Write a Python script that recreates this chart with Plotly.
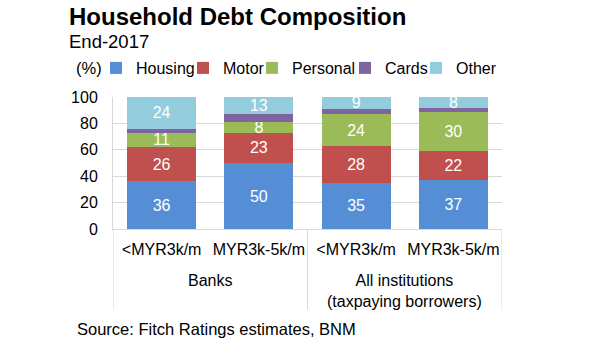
import plotly.graph_objects as go

groups = ["Banks", "All institutions<br>(taxpaying borrowers)"]
group_members = [[0, 1], [2, 3]]
bands = ["<MYR3k/m", "MYR3k-5k/m", "<MYR3k/m", "MYR3k-5k/m"]
xpos = list(range(len(bands)))

series = ["Housing", "Motor", "Personal", "Cards", "Other"]
housing = [36, 50, 35, 37]
motor = [26, 23, 28, 22]
personal = [11, 8, 24, 30]
cards = [3, 6, 4, 3]
other = [24, 13, 9, 8]
show_label = [True, True, True, False, True]
colors = ["#558ED5", "#C0504D", "#9BBB59", "#8064A2", "#93CDDD"]

y_ticks = [0, 20, 40, 60, 80, 100]

FONT = "Liberation Sans, Arial, sans-serif"
W, H = 601, 360
L, T, R, B = 113, 97, 99, 131
plot_w = W - L - R
plot_h = H - T - B


def px(x):
    return (x - L) / plot_w


def py(y):
    return (T + plot_h - y) / plot_h


values = [housing, motor, personal, cards, other]
legend_text_px = [136, 223, 292, 385, 456]

fig = go.Figure()
for i, (name, vals) in enumerate(zip(series, values)):
    lg = "legend" if i == 0 else f"legend{i+1}"
    fig.add_trace(go.Bar(
        x=xpos, y=vals, name=name,
        marker=dict(color=colors[i], line=dict(width=0)),
        text=[str(v) for v in vals] if show_label[i] else None,
        textposition="inside" if show_label[i] else "none",
        insidetextanchor="middle",
        textangle=0,
        constraintext="none",
        textfont=dict(color="white", size=16, family=FONT),
        legend=lg,
    ))

legend_layout = {}
for i in range(5):
    key = "legend" if i == 0 else f"legend{i+1}"
    legend_layout[key] = dict(
        x=px(legend_text_px[i] - 40), xanchor="left",
        y=py(68), yanchor="middle",
        orientation="h", font=dict(size=16, family=FONT, color="#000"),
        bgcolor="rgba(0,0,0,0)", borderwidth=0,
        itemclick=False,
    )

fig.update_layout(
    width=W, height=H,
    margin=dict(l=L, r=R, t=T, b=B, pad=0, autoexpand=False),
    paper_bgcolor="white", plot_bgcolor="white",
    barmode="stack", bargap=0.29,
    font=dict(family=FONT, size=16, color="#000"),
    showlegend=True, hovermode=False,
    uniformtext=dict(minsize=16, mode="show"),
    **legend_layout,
)

fig.update_yaxes(
    range=[0, 100], tickvals=y_ticks, showgrid=True, gridcolor="#D9D9D9", gridwidth=1,
    showline=True, linecolor="#D9D9D9", linewidth=1, zeroline=False,
    ticks="", ticklabelstandoff=11, tickfont=dict(size=16, family=FONT, color="#000"),
    automargin=False,
)
fig.update_xaxes(
    range=[-0.5, len(bands) - 0.5], tickvals=xpos, ticktext=bands,
    showline=True, linecolor="#D9D9D9", linewidth=1, showgrid=False, zeroline=False,
    tickfont=dict(size=16, family=FONT, color="#000"), ticks="", tickangle=0,
    ticklabelstandoff=6, automargin=False,
)

# group dividers (between and around the groups) and group labels
div_bottom = py(310)
bounds = [group_members[0][0] - 0.5] + [m[-1] + 0.5 for m in group_members]
for xb in bounds:
    fig.add_shape(type="line", xref="x", yref="paper", x0=xb, x1=xb, y0=0, y1=div_bottom,
                  line=dict(color="#D9D9D9", width=1))
for g, members in zip(groups, group_members):
    fig.add_annotation(
        text=g, xref="x", yref="paper", x=sum(members) / len(members), y=py(270),
        xanchor="center", yanchor="top", showarrow=False, align="center",
        font=dict(size=16, family=FONT, color="#000"),
    )

annos = [
    dict(text="<b>Household Debt Composition</b>", x=67, y=16.5, size=24),
    dict(text="End-2017", x=67, y=41.5, size=18.5),
    dict(text="(%)", x=74, y=68, size=16.5),
    dict(text="Source: Fitch Ratings estimates, BNM", x=75, y=329, size=16.5),
]
for a in annos:
    fig.add_annotation(
        text=a["text"], xref="paper", yref="paper",
        x=px(a["x"]), y=py(a["y"]),
        xanchor="left", yanchor="middle", showarrow=False,
        font=dict(size=a["size"], family=FONT, color="#000"),
    )

fig.write_html("out.html", config={"displayModeBar": False},
               post_script="document.body.style.margin='0';")
